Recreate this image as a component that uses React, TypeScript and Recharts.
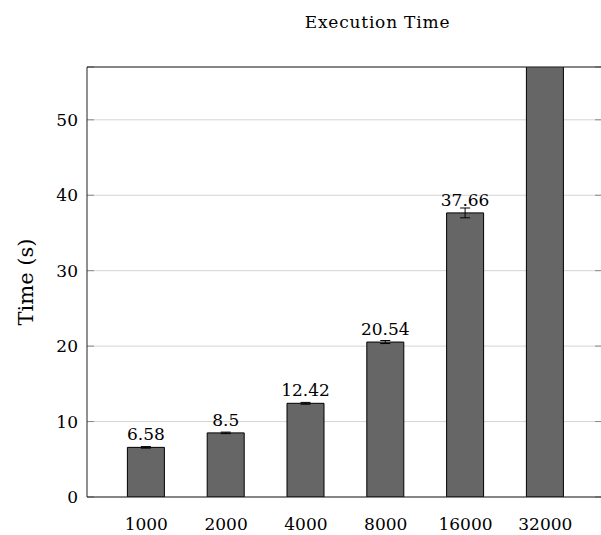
import React from 'react';
import { BarChart, Bar, XAxis, YAxis, CartesianGrid, ErrorBar, LabelList, ReferenceLine } from 'recharts';

const sizes = ['1000', '2000', '4000', '8000', '16000', '32000'];
const times = [6.58, 8.5, 12.42, 20.54, 37.66, 75];
const errors = [0.1, 0.1, 0.12, 0.2, 0.65, 1.0];
const yTicks = [0, 10, 20, 30, 40, 50];
const Y_MAX = 57;

const data = sizes.map((s, i) => ({ size: s, time: times[i], err: errors[i] }));

const FONT = 'DejaVu Serif';

const GridLine = (p: any) => (
  <g key={`g-${p.y1}`}>
    <line x1={p.x1} x2={p.x2} y1={p.y1} y2={p.y2} stroke="#d4d4d4" strokeWidth={1} />
    <line x1={p.x1} x2={p.x1 + 7} y1={p.y1} y2={p.y2} stroke="#8a8a8a" strokeWidth={1} />
    <line x1={p.x2 - 7} x2={p.x2} y1={p.y1} y2={p.y2} stroke="#8a8a8a" strokeWidth={1} />
  </g>
);

const ValueLabel = (p: any) => {
  const { x, y, width, value } = p;
  if (value > Y_MAX) return null;
  return (
    <text x={Number(x) + Number(width) / 2} y={Number(y) - 7} textAnchor="middle" fontSize={17} fontFamily={FONT} fill="#000">
      {value}
    </text>
  );
};

export default function App() {
  return (
    <div style={{ position: 'absolute', left: 0, top: 0, width: 601, height: 535, overflow: 'hidden', background: '#fff' }}>
      <BarChart
        width={620}
        height={535}
        data={data}
        margin={{ top: 67, right: 18, bottom: 0, left: 0 }}
        style={{ fontFamily: FONT }}
      >
        <CartesianGrid vertical={false} horizontal={GridLine as any} />
        <XAxis
          dataKey="size"
          type="category"
          height={38}
          padding={{ left: 19.4, right: 16.8 }}
          tickLine={false}
          tickSize={0}
          tickMargin={21}
          axisLine={{ stroke: '#222', strokeWidth: 1 }}
          tick={{ fill: '#000', fontSize: 17, fontFamily: FONT }}
        />
        <YAxis
          width={87}
          domain={[0, Y_MAX]}
          ticks={yTicks}
          allowDataOverflow
          tickLine={false}
          tickSize={0}
          tickMargin={9}
          axisLine={{ stroke: '#222', strokeWidth: 1 }}
          tick={{ fill: '#000', fontSize: 17, fontFamily: FONT }}
        />
        <ReferenceLine y={Y_MAX} stroke="#222" strokeWidth={1} />
        <Bar dataKey="time" fill="#666666" stroke="#000" strokeWidth={1} barSize={37} isAnimationActive={false}>
          <ErrorBar dataKey="err" direction="y" width={5} stroke="#000" strokeWidth={1} />
          <LabelList dataKey="time" content={ValueLabel} />
        </Bar>
      </BarChart>
      <svg width={601} height={535} style={{ position: 'absolute', left: 0, top: 0, pointerEvents: 'none' }}>
        <text x={377.5} y={28} textAnchor="middle" fontSize={17} letterSpacing={0.8} fontFamily={FONT} fill="#000">
          Execution Time
        </text>
        <text
          x={0}
          y={0}
          transform="translate(33, 282) rotate(-90)"
          textAnchor="middle"
          fontSize={21}
          fontFamily={FONT}
          fill="#000"
        >
          Time (s)
        </text>
      </svg>
    </div>
  );
}
